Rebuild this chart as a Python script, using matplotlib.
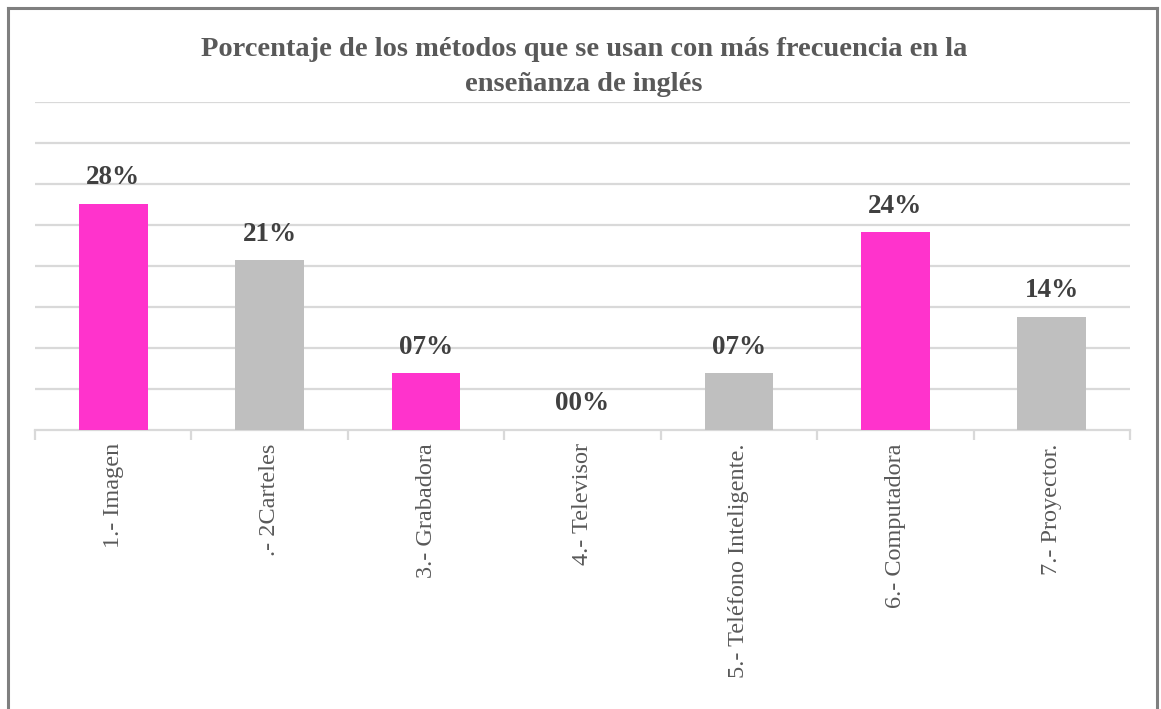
import matplotlib; matplotlib.use("Agg")
import matplotlib.pyplot as plt
from matplotlib.lines import Line2D
import numpy as np

categories = ["1.- Imagen", ".- 2Carteles", "3.- Grabadora", "4.- Televisor",
              "5.- Teléfono Inteligente.", "6.- Computadora", "7.- Proyector."]
values = [27.6, 20.7, 6.9, 0.0, 6.9, 24.1, 13.8]
value_labels = ["28%", "21%", "07%", "00%", "07%", "24%", "14%"]
bar_colors = ["#FF33CC", "#BFBFBF", "#FF33CC", "#BFBFBF", "#BFBFBF", "#FF33CC", "#BFBFBF"]
title = "Porcentaje de los métodos que se usan con más frecuencia en la\nenseñanza de inglés"

plt.rcParams["font.family"] = ["Liberation Serif", "DejaVu Serif"]

W, H = 1161, 709
fig = plt.figure(figsize=(W/100, H/100), dpi=100)
ax = fig.add_axes([35/W, 1-430/H, (1130-35)/W, 328/H])

x = np.arange(len(categories))
ax.bar(x, values, width=0.44, color=bar_colors, zorder=3)
for xi, v, lab in zip(x, values, value_labels):
    ax.text(xi, v + 2.4, lab, ha="center", va="baseline", fontsize=19.5,
            fontweight="bold", color="#404040", zorder=4)

ax.set_xlim(-0.5, len(categories) - 0.5)
ax.set_ylim(0, 40)
ax.set_yticks(np.arange(5, 41, 5))
ax.yaxis.grid(True, color="#D9D9D9", lw=1.6)
ax.set_axisbelow(True)
ax.tick_params(axis="y", left=False, labelleft=False)
for s in ("top", "right", "left"):
    ax.spines[s].set_visible(False)
ax.spines["bottom"].set_color("#D9D9D9")
ax.spines["bottom"].set_linewidth(1.6)

ax.set_xticks(np.arange(-0.5, len(categories), 1.0), minor=False)
ax.set_xticklabels([])
ax.tick_params(axis="x", which="major", length=7, width=1.6, color="#D9D9D9")
ax.set_xticks(x, minor=True)
ax.set_xticklabels(categories, minor=True, rotation=90, fontsize=17.5,
                   color="#595959", va="top", ha="center")
ax.tick_params(axis="x", which="minor", length=0, pad=9.5)

fig.text(584/W, 1-67/H, title, ha="center", va="center", fontsize=20.5,
         fontweight="bold", color="#595959", linespacing=1.5)

# outer frame (top, left, right)
fc = "#7F7F7F"
fig.add_artist(Line2D([8/W, 1157/W], [1-8/H, 1-8/H], color=fc, lw=2.2))
fig.add_artist(Line2D([8/W, 8/W], [0, 1-8/H], color=fc, lw=2.2))
fig.add_artist(Line2D([1157/W, 1157/W], [0, 1-8/H], color=fc, lw=2.2))

fig.savefig("out.png", dpi=100)
